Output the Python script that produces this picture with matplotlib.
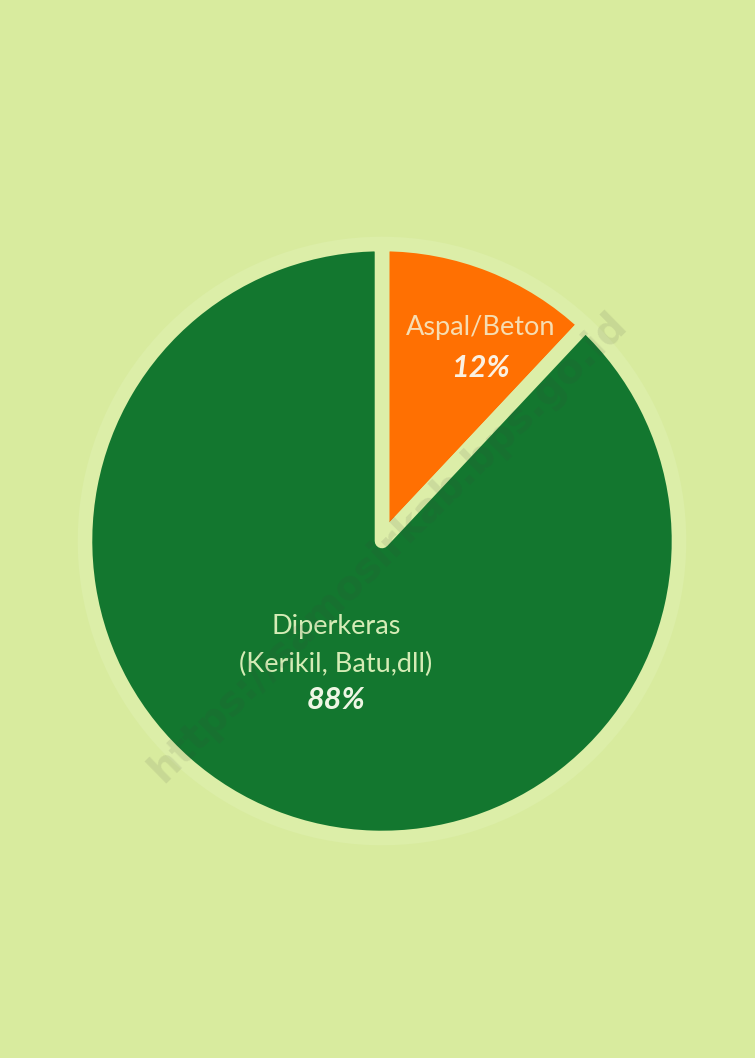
import numpy as np
import matplotlib
matplotlib.use("Agg")
import matplotlib.pyplot as plt

# data
labels = ["Aspal/Beton", "Diperkeras\n(Kerikil, Batu,dll)"]
values = [12, 88]
pct_text = ["12%", "88%"]
colors = ["#FF7002", "#13772F"]
label_colors = ["#F6DDB2", "#D5ECB6"]
pct_colors = ["#FBF1E2", "#EEF6E4"]
watermark = "https://samosirkab.bps.go.id"

bg = "#D8EB9E"
W, H = 755, 1058

fig = plt.figure(figsize=(W / 100, H / 100), dpi=100, facecolor=bg)
ax = fig.add_axes([0, 0, 1, 1])
ax.set_facecolor(bg)

cx, cy, r = 382, H - 541, 297
wedges, _ = ax.pie(values, colors=colors, startangle=90, counterclock=False,
                   center=(cx, cy), radius=r, frame=True,
                   wedgeprops=dict(edgecolor="#DCEEA8", linewidth=10.5,
                                   joinstyle="round"))
ax.set_xlim(0, W)
ax.set_ylim(0, H)
ax.set_aspect("equal")
ax.axis("off")

# where each label block sits, as a fraction of the radius
label_frac = [0.70, 0.42]
fs_lab, fs_pct = 19.5, 22
for i, w in enumerate(wedges):
    mid = np.deg2rad((w.theta1 + w.theta2) / 2)
    x = cx + label_frac[i] * r * np.cos(mid)
    y = cy + label_frac[i] * r * np.sin(mid)
    lines = labels[i].split("\n")
    if i == 0:
        x += 22
        ax.text(x, y + 20, lines[0], ha="center", va="center", fontsize=fs_lab,
                family="Lato", color=label_colors[i])
        ax.text(x, y - 20, pct_text[i], ha="center", va="center", fontsize=fs_pct,
                family="Lato", weight="bold", style="italic", color=pct_colors[i])
    else:
        y -= 6
        ax.text(x, y + 36, lines[0], ha="center", va="center", fontsize=fs_lab,
                family="Lato", color=label_colors[i])
        ax.text(x, y - 1, lines[1], ha="center", va="center", fontsize=fs_lab,
                family="Lato", color=label_colors[i])
        ax.text(x, y - 37, pct_text[i], ha="center", va="center", fontsize=fs_pct,
                family="Lato", weight="bold", style="italic", color=pct_colors[i])

# faint watermark across the chart
ax.text(388, H - 547, watermark, ha="center", va="center", rotation=44.5,
        fontsize=29, weight="bold", family="DejaVu Sans", color="#404040",
        alpha=0.11)

fig.savefig("out.png", dpi=100, facecolor=bg)
